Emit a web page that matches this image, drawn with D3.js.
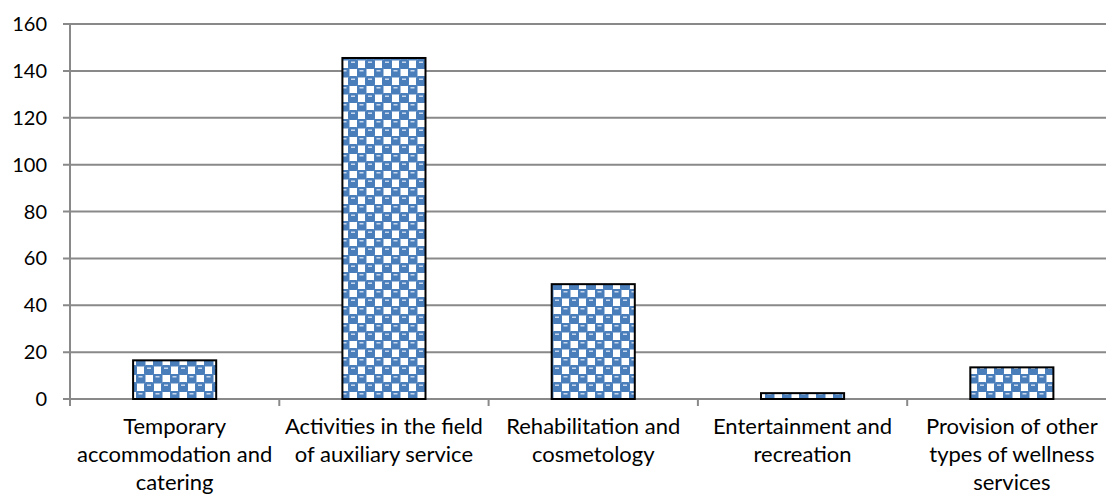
<!DOCTYPE html>
<html>
<head>
<meta charset="utf-8">
<script src="https://cdn.jsdelivr.net/npm/d3@7"></script>
<style>
  body { margin: 0; background: #fff; }
  svg { display: block; font-family: Lato, "Open Sans", sans-serif; }
</style>
</head>
<body>
<div id="chart"></div>
<script>
const categories = [
  ['Temporary', 'accommodation and', 'catering'],
  ['Activities in the field', 'of auxiliary service'],
  ['Rehabilitation and', 'cosmetology'],
  ['Entertainment and', 'recreation'],
  ['Provision of other', 'types of wellness', 'services'],
];
const values = [16.5, 145.5, 49, 2.5, 13.5];
const yTicks = [0, 20, 40, 60, 80, 100, 120, 140, 160];

const width = 1106;
const height = 497;
const margin = { top: 24, left: 70, bottom: 98 };
const step = 209.3;

const x = d3
  .scaleBand()
  .domain(d3.range(values.length))
  .range([margin.left, margin.left + step * values.length])
  .padding(0);
const y = d3
  .scaleLinear()
  .domain([0, 160])
  .range([height - margin.bottom, margin.top]);

const svg = d3
  .select('#chart')
  .append('svg')
  .attr('width', width)
  .attr('height', height)
  .attr('viewBox', [0, 0, width, height]);

// checker pattern with blue "spheres"
const defs = svg.append('defs');
const pat = defs
  .append('pattern')
  .attr('id', 'spheres')
  .attr('patternUnits', 'userSpaceOnUse')
  .attr('width', 17)
  .attr('height', 17);
pat.append('rect').attr('width', 17).attr('height', 17).attr('fill', '#fff');
[[0, 0], [8.5, 8.5], [-8.5, 8.5], [8.5, -8.5]].forEach(([px, py]) => {
  pat
    .append('rect')
    .attr('x', px - 0.5)
    .attr('y', py - 0.5)
    .attr('width', 10)
    .attr('height', 10)
    .attr('rx', 2)
    .attr('fill', '#4a7ebb');
  pat
    .append('rect')
    .attr('x', px + 2.5)
    .attr('y', py + 2)
    .attr('width', 4)
    .attr('height', 1.5)
    .attr('fill', '#c9d8ec');
});

// gridlines
svg
  .append('g')
  .selectAll('line')
  .data(yTicks)
  .join('line')
  .attr('x1', margin.left - 7)
  .attr('x2', width)
  .attr('y1', (d) => y(d))
  .attr('y2', (d) => y(d))
  .attr('stroke', '#898989')
  .attr('stroke-width', 2);

// y axis line
svg
  .append('line')
  .attr('x1', margin.left)
  .attr('x2', margin.left)
  .attr('y1', y(160))
  .attr('y2', y(0))
  .attr('stroke', '#898989')
  .attr('stroke-width', 2);

// y labels
svg
  .append('g')
  .selectAll('text')
  .data(yTicks)
  .join('text')
  .attr('x', 47)
  .attr('y', (d) => y(d))
  .attr('dy', '0.35em')
  .attr('text-anchor', 'end')
  .attr('font-size', 20)
  .attr('fill', '#000')
  .text((d) => d);

// x ticks
svg
  .append('g')
  .selectAll('line')
  .data(d3.range(values.length + 1))
  .join('line')
  .attr('x1', (d) => margin.left + step * d)
  .attr('x2', (d) => margin.left + step * d)
  .attr('y1', y(0))
  .attr('y2', y(0) + 7)
  .attr('stroke', '#898989')
  .attr('stroke-width', 2);

// bars
const barW = x.bandwidth() * 0.397;
svg
  .append('g')
  .selectAll('rect')
  .data(values)
  .join('rect')
  .attr('x', (d, i) => x(i) + (x.bandwidth() - barW) / 2)
  .attr('y', (d) => y(d))
  .attr('width', barW)
  .attr('height', (d) => y(0) - y(d))
  .attr('fill', 'url(#spheres)')
  .attr('stroke', '#000')
  .attr('stroke-width', 2);

// category labels
svg
  .append('g')
  .selectAll('text')
  .data(categories)
  .join('text')
  .attr('text-anchor', 'middle')
  .attr('font-size', 22)
  .attr('fill', '#000')
  .each(function (lines, i) {
    d3.select(this)
      .selectAll('tspan')
      .data(lines)
      .join('tspan')
      .attr('x', x(i) + x.bandwidth() / 2)
      .attr('y', (d, j) => 434 + j * 28)
      .text((d) => d);
  });
</script>
</body>
</html>
